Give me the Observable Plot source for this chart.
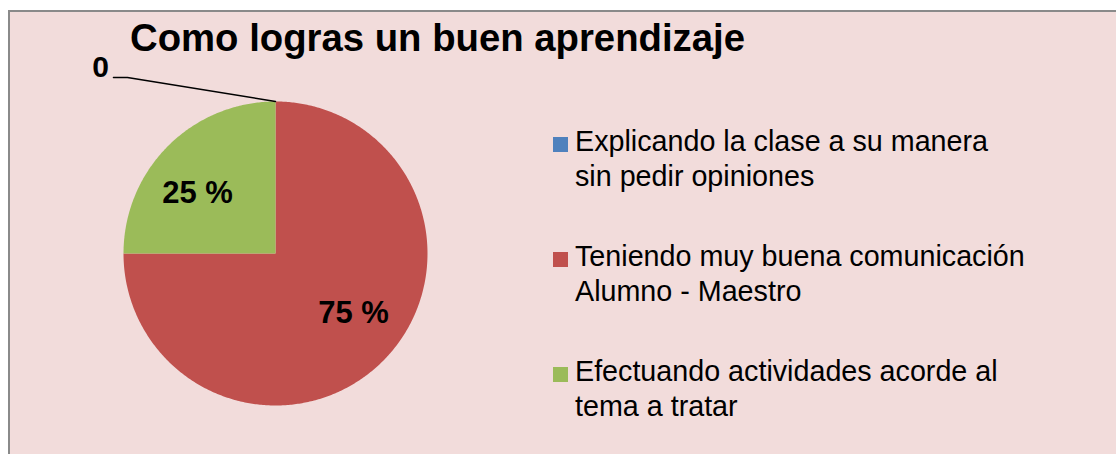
<!DOCTYPE html>
<html>
<head>
<meta charset="utf-8">
<script src="https://cdn.jsdelivr.net/npm/d3@7"></script>
<script src="https://cdn.jsdelivr.net/npm/@observablehq/plot@0.6"></script>
<style>
  html, body { margin: 0; padding: 0; background: #ffffff; }
  #wrap { position: relative; width: 1116px; height: 454px; overflow: hidden; font-family: "Liberation Sans", Arial, sans-serif; }
  #frame { position: absolute; left: 8px; top: 10px; width: 1120px; height: 460px; background: #F2DCDB;
           border-top: 2px solid #8a8a8a; border-left: 2px solid #8a8a8a; box-sizing: border-box; }
  #title { position: absolute; left: 130px; top: 16px; font-size: 38.3px; font-weight: bold; color: #000; white-space: nowrap; line-height: 44px; }
  #legend { position: absolute; left: 553px; top: 2px; }
  .item { position: absolute; left: 0; width: 560px; }
  .sw { position: absolute; left: 0; width: 15px; height: 15px; }
  .lab { position: absolute; left: 22px; font-size: 28.7px; line-height: 35px; color: #000; white-space: nowrap; }
  #chart { position: absolute; left: 0; top: 0; }
</style>
</head>
<body>
<div id="wrap">
  <div id="frame"></div>
  <div id="chart"></div>
  <div id="title"></div>
  <div id="legend"></div>
</div>
<script>
const title = "Como logras un buen aprendizaje";
const categories = [
  "Explicando la clase a su manera sin pedir opiniones",
  "Teniendo muy buena comunicación Alumno - Maestro",
  "Efectuando actividades acorde al tema a tratar"
];
const legendLines = [
  ["Explicando la clase a su manera", "sin pedir opiniones"],
  ["Teniendo muy buena comunicación", "Alumno - Maestro"],
  ["Efectuando actividades acorde al", "tema a tratar"]
];
const values = [0, 75, 25];
const sliceLabels = ["0", "75 %", "25 %"];
const colors = ["#4F81BD", "#C0504D", "#9BBB59"];

document.getElementById("title").textContent = title;

// pie geometry from data
const arcs = d3.pie().sort(null).value(d => d.value).startAngle(0).endAngle(2 * Math.PI)(
  categories.map((c, i) => ({category: c, value: values[i], label: sliceLabels[i]}))
);

const polyPts = [];
arcs.forEach(a => {
  if (a.endAngle - a.startAngle <= 0) return;
  const n = Math.max(2, Math.ceil((a.endAngle - a.startAngle) / 0.01));
  polyPts.push({category: a.data.category, x: 0, y: 0});
  for (let k = 0; k <= n; k++) {
    const t = a.startAngle + (a.endAngle - a.startAngle) * k / n;
    polyPts.push({category: a.data.category, x: Math.sin(t), y: Math.cos(t)});
  }
  polyPts.push({category: a.data.category, x: 0, y: 0});
});

const inLabels = arcs.filter(a => a.data.value > 0).map(a => {
  const m = (a.startAngle + a.endAngle) / 2;
  return {x: 0.726 * Math.sin(m), y: 0.558 * Math.cos(m), text: a.data.label};
});

// zero slice: outside label with leader line
const zeroArcs = arcs.filter(a => a.data.value === 0);
const leader = [];
const outLabels = [];
zeroArcs.forEach(a => {
  const ax = Math.sin(a.startAngle), ay = Math.cos(a.startAngle);
  leader.push({k: a.data.category, x: ax, y: ay});
  leader.push({k: a.data.category, x: ax - 0.974, y: ay + 0.158});
  leader.push({k: a.data.category, x: ax - 1.066, y: ay + 0.158});
  outLabels.push({x: ax - 1.151, y: ay + 0.224, text: a.data.label});
});

const plot = Plot.plot({
  width: 1116,
  height: 454,
  marginLeft: 123,
  marginRight: 689,
  marginTop: 101,
  marginBottom: 49,
  x: {domain: [-1, 1], axis: null},
  y: {domain: [-1, 1], axis: null},
  color: {domain: categories, range: colors},
  style: {background: "transparent", overflow: "visible"},
  marks: [
    Plot.line(polyPts, {x: "x", y: "y", z: "category", fill: "category", stroke: "none", curve: "linear"}),
    Plot.line(leader, {x: "x", y: "y", z: "k", stroke: "#000", strokeWidth: 1.5}),
    Plot.text(inLabels, {x: "x", y: "y", text: "text", fontSize: 31, fontWeight: "bold", fill: "#000",
      fontFamily: "Liberation Sans, Arial, sans-serif"}),
    Plot.text(outLabels, {x: "x", y: "y", text: "text", fontSize: 30, fontWeight: "bold", fill: "#000",
      fontFamily: "Liberation Sans, Arial, sans-serif"})
  ]
});
document.getElementById("chart").appendChild(plot);

// legend
const legend = document.getElementById("legend");
const itemTops = [122, 237, 352];
legendLines.forEach((lines, i) => {
  const it = document.createElement("div");
  it.className = "item";
  it.style.top = itemTops[i] + "px";
  const sw = document.createElement("div");
  sw.className = "sw";
  sw.style.background = colors[i];
  sw.style.top = "13px";
  it.appendChild(sw);
  const lab = document.createElement("div");
  lab.className = "lab";
  lab.style.top = "0px";
  lab.innerHTML = lines.join("<br>");
  it.appendChild(lab);
  legend.appendChild(it);
});
</script>
</body>
</html>
